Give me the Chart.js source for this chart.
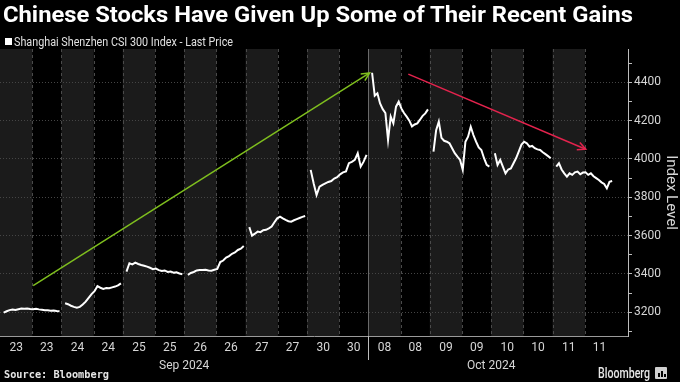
<!DOCTYPE html>
<html>
<head>
<meta charset="utf-8">
<script src="https://cdn.jsdelivr.net/npm/chart.js@4/dist/chart.umd.min.js"></script>
<style>
html,body{margin:0;padding:0;background:#000;width:680px;height:382px;overflow:hidden;}
#wrap{position:relative;width:680px;height:382px;}
#c{position:absolute;left:0;top:0;}
.t{position:absolute;white-space:nowrap;transform-origin:0 0;}
#title{left:3px;top:1px;font:700 22px Roboto;color:#fff;line-height:28px;}
#legend{left:14px;top:35px;font:12px Roboto;color:#e0e0e0;line-height:15px;}
#sq{position:absolute;left:5px;top:38px;width:7px;height:7px;background:#fff;}
#source{left:4px;top:368px;font:700 10.5px "DejaVu Sans Mono";color:#e6e6e6;line-height:13px;}
#brand{left:598px;top:365px;font:500 14px Roboto;color:#e6e6e6;line-height:16px;}
#icon{position:absolute;left:655px;top:367px;width:12px;height:12px;background:#cfcfcf;border-radius:1px;}
#icon i{position:absolute;bottom:2px;width:2px;background:#000;}
</style>
</head>
<body>
<div id="wrap">
<canvas id="c" width="680" height="382"></canvas>
<div class="t" id="title">Chinese Stocks Have Given Up Some of Their Recent Gains</div>
<div id="sq"></div>
<div class="t" id="legend">Shanghai Shenzhen CSI 300 Index - Last Price</div>
<div class="t" id="source">Source: Bloomberg</div>
<div class="t" id="brand">Bloomberg</div>
<div id="icon"><i style="left:3px;height:4px"></i><i style="left:6px;height:6px"></i><i style="left:9px;height:3px"></i></div>
</div>
<script>
// ---- data ----
const dayNames = ['Sep 23','Sep 24','Sep 25','Sep 26','Sep 27','Sep 30','Oct 08','Oct 09','Oct 10','Oct 11'];
const dayTicks = ['23','23','24','24','25','25','26','26','27','27','30','30','08','08','09','09','10','10','11','11'];
const monthLabels = ['Sep 2024','Oct 2024'];
const sep23 = [3198,3205,3211,3214,3212,3216,3219,3218,3220,3217,3216,3218,3215,3213,3211,3210,3208,3209,3206,3205];
const sep24 = [3247,3242,3234,3228,3224,3228,3240,3255,3275,3295,3310,3336,3328,3322,3326,3325,3330,3334,3340,3351];
const sep25 = [3412,3456,3450,3459,3452,3447,3443,3438,3432,3425,3428,3420,3415,3418,3410,3413,3406,3408,3402,3398];
const sep26 = [3395,3405,3410,3418,3421,3420,3422,3418,3417,3422,3426,3462,3470,3485,3493,3505,3512,3525,3532,3546];
const sep27 = [3644,3600,3610,3621,3618,3628,3630,3638,3647,3670,3690,3699,3690,3682,3675,3673,3680,3686,3692,3698,3702];
const sep30 = [3943,3873,3812,3855,3865,3873,3880,3885,3898,3905,3920,3930,3935,3978,3985,3995,4030,3960,3986,4021];
const oct08 = [4450,4330,4343,4290,4260,4240,4099,4221,4186,4273,4299,4264,4240,4221,4200,4170,4180,4186,4205,4225,4238,4259];
const oct09 = [4038,4150,4195,4110,4095,4090,4082,4056,4030,4012,3995,3943,4090,4116,4168,4125,4090,4060,4047,4004,3969,3960];
const oct10 = [4030,3969,3995,3960,3925,3945,3950,3978,4005,4040,4075,4090,4082,4064,4068,4056,4050,4047,4035,4025,4015,4004];
const oct11 = [3960,3978,3945,3925,3908,3925,3917,3930,3934,3920,3929,3930,3917,3925,3910,3900,3890,3878,3870,3847,3881,3885];
const yTickValues = [3100,3200,3300,3400,3500,3600,3700,3800,3900,4000,4100,4200,4300,4400,4500];
// trend arrows [day-position, index level]
const upArrow = [[0.54,3339],[6.02,4449]];
const downArrow = [[6.65,4443],[9.54,4051]];

// ---- time axis layout: one unit per trading day, two sessions per day ----
const days = [sep23,sep24,sep25,sep26,sep27,sep30,oct08,oct09,oct10,oct11];
const SPLIT = 0.526, START = 0.06, END = 0.97, X_MAX = 10.228, MONTH_BREAK = 6;
const tickPos = [];
days.forEach((_,d)=>{ tickPos.push(d+SPLIT/2, d+(1+SPLIT)/2); });
const monthPos = [3, 8];

const pricePts = [];
days.forEach((vals,d)=>{
  const n = vals.length;
  vals.forEach((v,j)=>pricePts.push({x:d+START+j*(END-START)/(n-1), y:v}));
  pricePts.push({x:d+0.99, y:null});
});

const bands = {
  id:'bands',
  beforeDraw(chart){
    const {ctx, chartArea:a, scales:{x}} = chart;
    ctx.save();
    ctx.fillStyle = '#1b1b1b';
    for (let d=0; d<days.length; d++){
      const x0 = x.getPixelForValue(d), x1 = x.getPixelForValue(d+SPLIT);
      ctx.fillRect(x0, a.top, x1-x0, a.bottom-a.top);
    }
    ctx.strokeStyle = '#4a4a4a'; ctx.lineWidth = 1; ctx.setLineDash([3,3]);
    for (let d=0; d<days.length; d++){
      for (const b of [d, d+SPLIT]){
        if (b===0 || b===MONTH_BREAK) continue;
        const px = Math.round(x.getPixelForValue(b))+0.5;
        ctx.beginPath(); ctx.moveTo(px,a.top); ctx.lineTo(px,a.bottom); ctx.stroke();
      }
    }
    ctx.restore();
  },
  afterDraw(chart){
    const {ctx, chartArea:a, scales:{x}} = chart;
    ctx.save();
    const px = Math.round(x.getPixelForValue(MONTH_BREAK))+0.5;
    ctx.strokeStyle = '#6a6a6a'; ctx.lineWidth = 1;
    ctx.beginPath(); ctx.moveTo(px,a.top); ctx.lineTo(px,a.bottom); ctx.stroke();
    ctx.strokeStyle = '#bdbdbd';
    ctx.beginPath(); ctx.moveTo(px,a.bottom); ctx.lineTo(px,a.bottom+24); ctx.stroke();
    // arrowheads
    [1,2].forEach(i=>{
      const meta = chart.getDatasetMeta(i);
      const p0 = meta.data[0], p1 = meta.data[1];
      const ang = Math.atan2(p1.y-p0.y, p1.x-p0.x);
      ctx.strokeStyle = chart.data.datasets[i].borderColor; ctx.lineWidth = 1.5;
      ctx.beginPath();
      ctx.moveTo(p1.x-9*Math.cos(ang-0.45), p1.y-9*Math.sin(ang-0.45));
      ctx.lineTo(p1.x, p1.y);
      ctx.lineTo(p1.x-9*Math.cos(ang+0.45), p1.y-9*Math.sin(ang+0.45));
      ctx.stroke();
    });
    ctx.restore();
  }
};

const tickColor = '#d6d6d6';
new Chart(document.getElementById('c'), {
  type:'line',
  data:{datasets:[
    {label:'Shanghai Shenzhen CSI 300 Index - Last Price', data:pricePts, borderColor:'#ffffff', borderWidth:2, pointRadius:0, tension:0, spanGaps:false},
    {label:'up', data:upArrow.map(p=>({x:p[0],y:p[1]})), borderColor:'#7fbf1e', borderWidth:1.5, pointRadius:0},
    {label:'down', data:downArrow.map(p=>({x:p[0],y:p[1]})), borderColor:'#e3234d', borderWidth:1.5, pointRadius:0}
  ]},
  options:{
    responsive:false, animation:false, devicePixelRatio:1,
    layout:{padding:{top:49,left:0,right:0,bottom:0}},
    plugins:{legend:{display:false}, tooltip:{enabled:false}},
    scales:{
      x:{type:'linear', position:'bottom', weight:0, min:0, max:X_MAX,
        afterBuildTicks:s=>{s.ticks = tickPos.map(v=>({value:v}));},
        afterFit:s=>{s.height=20;},
        grid:{display:false, drawTicks:false},
        border:{display:true, color:'#9a9a9a'},
        ticks:{autoSkip:false, maxRotation:0, padding:5, color:tickColor, font:{family:'Roboto', size:12}, callback:(v,i)=>dayTicks[i]}
      },
      xm:{type:'linear', position:'bottom', weight:1, min:0, max:X_MAX,
        afterBuildTicks:s=>{s.ticks = monthPos.map(v=>({value:v}));},
        afterFit:s=>{s.height=26;},
        grid:{display:false, drawTicks:false},
        border:{display:false},
        ticks:{autoSkip:false, maxRotation:0, padding:3, color:tickColor, font:{family:'Roboto', size:12}, callback:(v,i)=>monthLabels[i]}
      },
      y:{type:'linear', position:'right', min:3076, max:4574,
        afterBuildTicks:s=>{s.ticks = yTickValues.map(v=>({value:v}));},
        afterFit:s=>{s.width=52;},
        grid:{color:c=>(c.tick && c.tick.value%200===0)?'#454545':'rgba(0,0,0,0)', drawTicks:true, tickLength:4, tickColor:'#bdbdbd', lineWidth:1},
        border:{display:true, color:'#bdbdbd', dash:[1,2]},
        ticks:{padding:2, color:tickColor, font:{family:'Roboto', size:12}, callback:v=>(v%200===0?String(v):'')},
        title:{display:true, text:'Index Level', color:tickColor, font:{family:'Roboto', size:15}, padding:{top:0,bottom:2}}
      }
    }
  },
  plugins:[bands]
});

function fit(id, w){
  const el = document.getElementById(id);
  const r = el.getBoundingClientRect().width;
  el.style.transform = 'scaleX(' + (w/r) + ')';
}
fit('title', 630);
fit('legend', 219);
fit('source', 105);
fit('brand', 52);
</script>
</body>
</html>
